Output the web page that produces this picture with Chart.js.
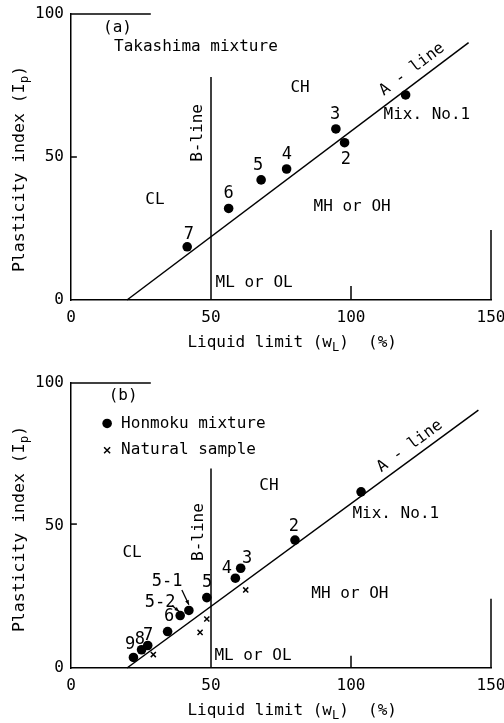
<!DOCTYPE html>
<html><head><meta charset="utf-8">
<script src="https://cdn.jsdelivr.net/npm/chart.js@4/dist/chart.umd.min.js"></script>
<style>
html,body{margin:0;padding:0;background:#fff;}
canvas{display:block;}
</style></head><body>
<canvas id="c1" width="504" height="360"></canvas>
<canvas id="c2" width="504" height="363"></canvas>
<script>
// ---------- data ----------
const xTicks = [0, 50, 100, 150];
const yTicks = [0, 50, 100];

// (a) Takashima mixture
const takLL    = [119.5, 97.7, 94.6, 77.0, 67.9, 56.3, 41.5];
const takPI    = [71.7, 55.0, 59.8, 45.8, 42.0, 32.0, 18.6];
const takNames = ['Mix. No.1', '2', '3', '4', '5', '6', '7'];

// (b) Honmoku mixture
const honLL    = [103.6, 80.0, 60.6, 58.7, 48.5, 42.1, 39.0, 34.5, 27.4, 25.2, 22.3];
const honPI    = [61.8, 44.9, 35.0, 31.5, 24.7, 20.2, 18.4, 12.8, 7.9, 6.4, 3.7];
const honNames = ['Mix. No.1', '2', '3', '4', '5', '5-1', '5-2', '6', '7', '8', '9'];

// (b) Natural samples
const natLL = [29.4, 46.1, 48.5, 62.4];
const natPI = [4.7, 12.5, 17.2, 27.4];

// A-line and B-line
const aLineTopLL = [20, 142];   const aLineTopPI = [0, 90];
const aLineBotLL = [20, 145.5]; const aLineBotPI = [0, 90.5];
const bLineTopLL = [50, 50];    const bLineTopPI = [0, 78];
const bLineBotLL = [50, 50];    const bLineBotPI = [0, 70];

// ---------- helpers ----------
const FONT = '"DejaVu Sans Mono", monospace';
const pts = (xs, ys) => xs.map((v, i) => ({x: v, y: ys[i]}));

function lineDS(data) {
  return {type: 'line', data, borderColor: '#000', borderWidth: 1.5,
          pointRadius: 0, fill: false, clip: false, tension: 0, order: 2};
}

function notesPlugin(cfg) {
  return {
    id: 'notes',
    afterDatasetsDraw(chart) {
      const ctx = chart.ctx, xs = chart.scales.x, ys = chart.scales.y;
      const P = (x, y) => [xs.getPixelForValue(x), ys.getPixelForValue(y)];
      ctx.save();
      ctx.fillStyle = '#000'; ctx.strokeStyle = '#000';
      ctx.textBaseline = 'middle';
      // text notes
      cfg.notes.forEach(n => {
        const [px, py] = P(n.x, n.y);
        ctx.font = (n.size || 16) + 'px ' + FONT;
        ctx.textAlign = n.align || 'center';
        ctx.save();
        ctx.translate(px, py);
        if (n.rot === 'A') {
          const [x0, y0] = P(cfg.aLL[0], cfg.aPI[0]);
          const [x1, y1] = P(cfg.aLL[1], cfg.aPI[1]);
          ctx.rotate(Math.atan2(y1 - y0, x1 - x0));
        } else if (n.rot) ctx.rotate(n.rot);
        ctx.fillText(n.t, 0, 0);
        ctx.restore();
      });
      // legend markers
      (cfg.markers || []).forEach(m => {
        const [px, py] = P(m.x, m.y);
        if (m.kind === 'dot') {
          ctx.beginPath(); ctx.arc(px, py, 4.8, 0, Math.PI * 2); ctx.fill();
        } else {
          ctx.lineWidth = 1.5; ctx.beginPath();
          ctx.moveTo(px - 3, py - 3); ctx.lineTo(px + 3, py + 3);
          ctx.moveTo(px + 3, py - 3); ctx.lineTo(px - 3, py + 3); ctx.stroke();
        }
      });
      // arrows
      (cfg.arrows || []).forEach(a => {
        const [x0, y0] = P(a[0], a[1]), [x1, y1] = P(a[2], a[3]);
        ctx.lineWidth = 1.3;
        ctx.beginPath(); ctx.moveTo(x0, y0); ctx.lineTo(x1, y1); ctx.stroke();
        const ang = Math.atan2(y1 - y0, x1 - x0);
        ctx.beginPath();
        ctx.moveTo(x1, y1);
        ctx.lineTo(x1 - 5 * Math.cos(ang - 0.4), y1 - 5 * Math.sin(ang - 0.4));
        ctx.lineTo(x1 - 5 * Math.cos(ang + 0.4), y1 - 5 * Math.sin(ang + 0.4));
        ctx.closePath(); ctx.fill();
      });
      // axis titles with subscripts
      const ca = chart.chartArea;
      const drawSub = (parts) => {
        let w = 0;
        parts.forEach(p => { ctx.font = p[1] + 'px ' + FONT; w += ctx.measureText(p[0]).width; });
        let x = -w / 2;
        ctx.textAlign = 'left';
        parts.forEach(p => {
          ctx.font = p[1] + 'px ' + FONT;
          ctx.fillText(p[0], x, p[2]);
          x += ctx.measureText(p[0]).width;
        });
      };
      ctx.save();
      ctx.translate(xs.getPixelForValue(79), ca.bottom + 43);
      drawSub([['Liquid limit (w', 16, 0], ['L', 12, 5], [')  (%)', 16, 0]]);
      ctx.restore();
      ctx.save();
      ctx.translate(20, 169);
      ctx.rotate(-Math.PI / 2);
      drawSub([['Plasticity index (I', 16.5, 0], ['p', 12.5, 5], [')', 16.5, 0]]);
      ctx.restore();
      ctx.restore();
    }
  };
}

function makeChart(id, datasets, padTop, xHeight, cfg) {
  return new Chart(document.getElementById(id), {
    type: 'scatter',
    data: {datasets},
    options: {
      responsive: false, animation: false,
      layout: {padding: {top: padTop, right: 13, bottom: 0, left: 0}},
      plugins: {legend: {display: false}, tooltip: {enabled: false}},
      scales: {
        x: {type: 'linear', min: 0, max: 150,
            grid: {display: false, drawTicks: false},
            border: {display: true, color: '#000', width: 1.5},
            afterBuildTicks: s => { s.ticks = xTicks.map(v => ({value: v})); },
            afterFit: s => { s.height = xHeight; s.paddingLeft = 0; s.paddingRight = 0; },
            ticks: {padding: 8, color: '#000', maxRotation: 0,
                    font: {family: FONT, size: 16}}},
        y: {type: 'linear', min: 0, max: 100,
            grid: {display: false, drawTicks: false},
            border: {display: true, color: '#000', width: 1.5},
            afterBuildTicks: s => { s.ticks = yTicks.map(v => ({value: v})); },
            afterFit: s => { s.width = 71; s.paddingTop = 0; s.paddingBottom = 0; },
            ticks: {padding: 7, color: '#000',
                    font: {family: FONT, size: 16}}}
      }
    },
    plugins: [notesPlugin(cfg)]
  });
}

// ---------- chart (a) ----------
makeChart('c1', [
  {type: 'scatter', data: pts(takLL, takPI), backgroundColor: '#000', borderWidth: 0,
   pointRadius: 4.8, pointStyle: 'circle', order: 1},
  lineDS(pts(aLineTopLL, aLineTopPI)),
  lineDS(pts(bLineTopLL, bLineTopPI)),
  lineDS([{x: 0, y: 100}, {x: 28.5, y: 100}]),
  lineDS([{x: 150, y: 0}, {x: 150, y: 24.5}]),
  lineDS([{x: 100, y: 0}, {x: 100, y: 4.9}]),
  lineDS([{x: 0, y: 50}, {x: 2.1, y: 50}])
], 14, 60, {
  aLL: aLineTopLL, aPI: aLineTopPI,
  notes: [
    {t: '(a)', x: 16.6, y: 95},
    {t: 'Takashima mixture', x: 44.6, y: 88.5},
    {t: 'CH', x: 81.8, y: 74.1},
    {t: 'B-line', x: 45.4, y: 58.4, rot: -Math.PI / 2},
    {t: 'CL', x: 30, y: 35},
    {t: 'MH or OH', x: 100.4, y: 32.5},
    {t: 'ML or OL', x: 65.4, y: 6},
    {t: 'A - line', x: 121.8, y: 80.6, rot: 'A'},
    {t: takNames[0], x: 127.1, y: 64.7},
    {t: takNames[1], x: 98.2, y: 49, size: 17},
    {t: takNames[2], x: 94.3, y: 65, size: 17},
    {t: takNames[3], x: 77.1, y: 50.7, size: 17},
    {t: takNames[4], x: 66.8, y: 46.9, size: 17},
    {t: takNames[5], x: 56.3, y: 37.1, size: 17},
    {t: takNames[6], x: 42.1, y: 22.7, size: 17}
  ]
});

// ---------- chart (b) ----------
makeChart('c2', [
  {type: 'scatter', data: pts(honLL, honPI), backgroundColor: '#000', borderWidth: 0,
   pointRadius: 4.8, pointStyle: 'circle', order: 1},
  {type: 'scatter', data: pts(natLL, natPI), borderColor: '#000', borderWidth: 1.5,
   pointRadius: 3.6, pointStyle: 'crossRot', order: 1},
  lineDS(pts(aLineBotLL, aLineBotPI)),
  lineDS(pts(bLineBotLL, bLineBotPI)),
  lineDS([{x: 0, y: 100}, {x: 28.5, y: 100}]),
  lineDS([{x: 150, y: 0}, {x: 150, y: 24.3}]),
  lineDS([{x: 100, y: 0}, {x: 100, y: 4.3}]),
  lineDS([{x: 0, y: 50.5}, {x: 2.1, y: 50.5}])
], 23, 55, {
  aLL: aLineBotLL, aPI: aLineBotPI,
  notes: [
    {t: '(b)', x: 18.6, y: 95.4},
    {t: 'Honmoku mixture', x: 17.9, y: 85.8, align: 'left'},
    {t: 'Natural sample', x: 17.9, y: 76.4, align: 'left'},
    {t: 'CH', x: 70.7, y: 63.8},
    {t: 'B-line', x: 45.7, y: 47.7, rot: -Math.PI / 2},
    {t: 'CL', x: 21.8, y: 40.4},
    {t: 'MH or OH', x: 99.6, y: 26.0},
    {t: 'ML or OL', x: 65, y: 4.3},
    {t: 'A - line', x: 121, y: 77.8, rot: 'A'},
    {t: honNames[0], x: 116, y: 54},
    {t: honNames[1], x: 79.6, y: 49.5, size: 17},
    {t: honNames[2], x: 62.9, y: 38.3, size: 17},
    {t: honNames[3], x: 55.7, y: 34.8, size: 17},
    {t: honNames[4], x: 48.6, y: 29.9, size: 17},
    {t: honNames[5], x: 34.3, y: 30.2, size: 17},
    {t: honNames[6], x: 31.8, y: 23.0, size: 17},
    {t: honNames[7], x: 35, y: 18, size: 17},
    {t: honNames[8], x: 27.5, y: 11.3, size: 17},
    {t: honNames[9], x: 24.6, y: 9.9, size: 17},
    {t: honNames[10], x: 21.1, y: 8.2, size: 17}
  ],
  markers: [{kind: 'dot', x: 12.9, y: 85.8}, {kind: 'cross', x: 12.9, y: 76.4}],
  arrows: [[39.6, 27.4, 42.1, 22.2], [36.1, 21.9, 38.6, 19.8]]
});
</script>
</body></html>
